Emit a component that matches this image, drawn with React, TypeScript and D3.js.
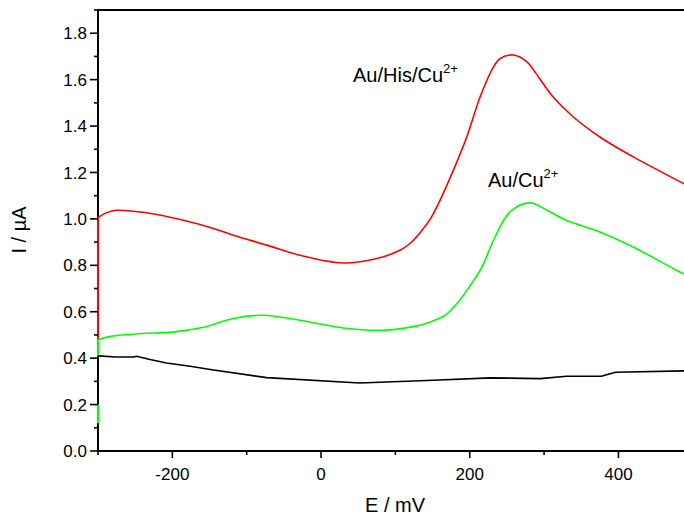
import React from "react";
import * as d3 from "d3";

// ---- data ----
const redX = [-300, -300, -288, -275, -252, -221, -185, -149, -118, -73, -28, 30, 75, 106, 120, 133, 147, 160, 178, 196, 214, 232, 241, 259, 277, 286, 312, 339, 375, 420, 487, 500];
const redY = [0.45, 1.006, 1.027, 1.037, 1.033, 1.019, 0.994, 0.963, 0.93, 0.887, 0.843, 0.81, 0.829, 0.865, 0.895, 0.94, 1.0, 1.08, 1.21, 1.353, 1.526, 1.655, 1.691, 1.706, 1.677, 1.641, 1.526, 1.44, 1.353, 1.267, 1.153, 1.13];

const greenX = [-300, -300, -283, -243, -200, -160, -118, -77, -28, 30, 84, 129, 147, 167, 184, 200, 216, 232, 254, 281, 304, 330, 375, 420, 478, 500];
const greenY = [0.12, 0.48, 0.494, 0.506, 0.512, 0.532, 0.571, 0.585, 0.563, 0.53, 0.52, 0.539, 0.556, 0.585, 0.64, 0.71, 0.79, 0.908, 1.03, 1.069, 1.037, 0.994, 0.944, 0.879, 0.779, 0.745];

const blackX = [-300, -300, -275, -252, -248, -230, -208, -176, -149, -73, 52, 151, 228, 295, 330, 377, 396, 488, 500];
const blackY = [0.2, 0.41, 0.405, 0.405, 0.408, 0.394, 0.379, 0.365, 0.351, 0.316, 0.293, 0.305, 0.315, 0.312, 0.322, 0.322, 0.339, 0.345, 0.345];

const xMajorTicks = [-200, 0, 200, 400];
const xTickLabels = ["-200", "0", "200", "400"];
const xMinorTicks = [-300, -100, 100, 300, 500];
const yMajorTicks = [0, 0.2, 0.4, 0.6, 0.8, 1.0, 1.2, 1.4, 1.6, 1.8];
const yTickLabels = ["0.0", "0.2", "0.4", "0.6", "0.8", "1.0", "1.2", "1.4", "1.6", "1.8"];
const yMinorTicks = [0.1, 0.3, 0.5, 0.7, 0.9, 1.1, 1.3, 1.5, 1.7, 1.9];

const W = 684;
const H = 515;
const FONT = "'Liberation Sans', Arial, sans-serif";

export default function App() {
  const x = d3.scaleLinear().domain([-300, 500]).range([98, 98 + 800 * 0.7435]);
  const y = d3.scaleLinear().domain([0, 1.9]).range([451, 10]);

  const smooth = d3
    .line<[number, number]>()
    .x((d) => x(d[0]))
    .y((d) => y(d[1]))
    .curve(d3.curveCatmullRom.alpha(0.5));
  const straight = d3
    .line<[number, number]>()
    .x((d) => x(d[0]))
    .y((d) => y(d[1]));

  const zip = (a: number[], b: number[]) => a.map((v, i) => [v, b[i]] as [number, number]);

  const [x0, x1] = x.range();
  const [yb, yt] = y.range();

  const series = [
    { pts: zip(redX, redY), color: "#ff0000", gen: smooth },
    { pts: zip(greenX, greenY), color: "#00ff00", gen: smooth },
    { pts: zip(blackX, blackY), color: "#000000", gen: straight },
  ];

  return (
    <svg
      width={W}
      height={H}
      style={{ position: "absolute", left: 0, top: 0, background: "#fff" }}
      fontFamily={FONT}
    >
      <defs>
        <clipPath id="plot">
          <rect x={x0 - 2} y={yt} width={x1 - x0 + 2} height={yb - yt} />
        </clipPath>
      </defs>
      <rect x={0} y={0} width={W} height={H} fill="#fff" />

      {/* frame */}
      <line x1={x0} x2={x0} y1={yt} y2={yb + 1} stroke="#000" strokeWidth={2} />
      <line x1={x0 - 1} x2={x1} y1={yb} y2={yb} stroke="#000" strokeWidth={2} />
      <line x1={x0 - 1} x2={x1} y1={yt} y2={yt} stroke="#000" strokeWidth={2} />

      <g clipPath="url(#plot)" fill="none" strokeWidth={1.6} strokeLinejoin="round">
        {series.map((s, i) => (
          <g key={i} stroke={s.color}>
            <path d={straight(s.pts.slice(0, 2)) || ""} strokeWidth={2} />
            <path d={s.gen(s.pts.slice(1)) || ""} />
          </g>
        ))}
      </g>

      {/* y ticks */}
      {yMajorTicks.map((t, i) => (
        <g key={"ym" + i}>
          <line x1={x0 - 8} x2={x0} y1={y(t)} y2={y(t)} stroke="#000" strokeWidth={1.6} />
          <text x={x0 - 11} y={y(t)} dy="0.36em" textAnchor="end" fontSize={17} fill="#000">
            {yTickLabels[i]}
          </text>
        </g>
      ))}
      {yMinorTicks.map((t, i) => (
        <line key={"yn" + i} x1={x0 - 4} x2={x0} y1={y(t)} y2={y(t)} stroke="#000" strokeWidth={1.6} />
      ))}

      {/* x ticks */}
      {xMajorTicks.map((t, i) => (
        <g key={"xm" + i}>
          <line x1={x(t)} x2={x(t)} y1={yb} y2={yb + 7} stroke="#000" strokeWidth={1.6} />
          <text x={x(t)} y={yb + 29} textAnchor="middle" fontSize={17} fill="#000">
            {xTickLabels[i]}
          </text>
        </g>
      ))}
      {xMinorTicks.map((t, i) => (
        <line key={"xn" + i} x1={x(t)} x2={x(t)} y1={yb} y2={yb + 4} stroke="#000" strokeWidth={1.6} />
      ))}

      {/* axis titles */}
      <text x={395} y={512} textAnchor="middle" fontSize={20} fill="#000">
        E / mV
      </text>
      <text transform="translate(26,230) rotate(-90)" textAnchor="middle" fontSize={20} fill="#000">
        I / µA
      </text>

      {/* annotations */}
      <text x={353} y={82} fontSize={20} fill="#000">
        Au/His/Cu
        <tspan fontSize={13} dy={-9}>2+</tspan>
      </text>
      <text x={488} y={187} fontSize={20} fill="#000">
        Au/Cu
        <tspan fontSize={13} dy={-9}>2+</tspan>
      </text>
    </svg>
  );
}
